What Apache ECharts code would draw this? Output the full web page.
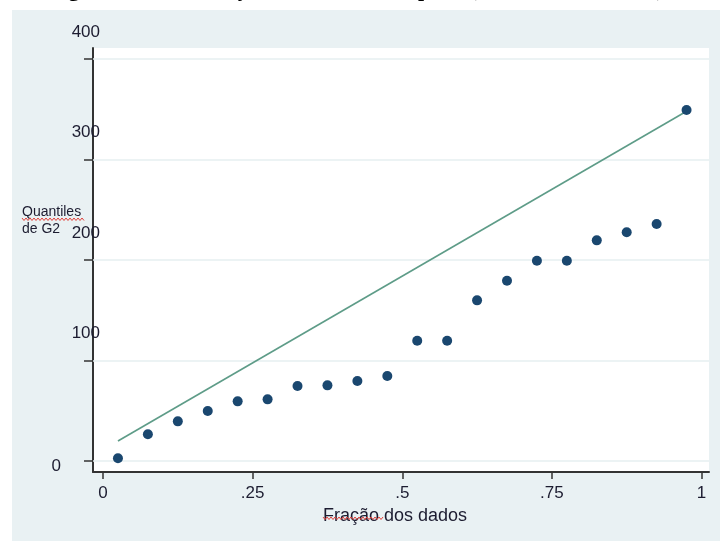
<!DOCTYPE html>
<html>
<head>
<meta charset="utf-8">
<script src="https://cdn.jsdelivr.net/npm/echarts@6/dist/echarts.min.js"></script>
<style>
  html, body { margin: 0; padding: 0; background: #fff; }
  #chart {
    width: 720px; height: 541px;
    background: linear-gradient(#e9f1f3, #e9f1f3) 12px 10px / 708px 531px no-repeat, #fff;
  }
</style>
</head>
<body>
<div id="chart"></div>
<script>
  // frações (posições de plotagem) e quantis de G2
  var fractions = [0.025, 0.075, 0.125, 0.175, 0.225, 0.275, 0.325, 0.375, 0.425, 0.475,
                   0.525, 0.575, 0.625, 0.675, 0.725, 0.775, 0.825, 0.875, 0.925, 0.975];
  var quantiles = [2.7, 26.6, 39.5, 49.8, 59.4, 61.4, 74.6, 75.3, 79.6, 84.6,
                   119.7, 119.7, 159.9, 179.4, 199.3, 199.3, 219.6, 227.6, 235.8, 349.3];
  // linha de referência
  var refX = [0.025, 0.975];
  var refY = [19.9, 348];
  // eixos
  var xTicks = [0, 0.25, 0.5, 0.75, 1];
  var xTickLabels = ['0', '.25', '.5', '.75', '1'];
  var yTicks = [0, 100, 200, 300, 400];

  var FONT = '"Liberation Sans", Arial, sans-serif';
  var INK = '#1c1c30';

  // sublinhado ondulado (corretor ortográfico)
  function wavy(x0, x1, y) {
    var pts = [];
    for (var x = x0, k = 0; x <= x1; x += 2, k++) {
      pts.push([x, y + (k % 2 ? 1.5 : -1)]);
    }
    return {
      type: 'polyline', z: 100, silent: true,
      shape: { points: pts },
      style: { stroke: '#e0403a', lineWidth: 1, fill: null }
    };
  }

  var scatterData = fractions.map(function (f, i) { return [f, quantiles[i]]; });
  var refData = refX.map(function (x, i) { return [x, refY[i]]; });

  var chart = echarts.init(document.getElementById('chart'));
  chart.setOption({
    backgroundColor: 'transparent',
    animation: false,
    grid: {
      left: 93, right: 11, top: 48, bottom: 69,
      show: true, backgroundColor: '#fff', borderWidth: 0
    },
    xAxis: {
      type: 'value',
      min: -0.0167, max: 1.0125,
      name: 'Fração dos dados',
      nameLocation: 'middle',
      nameGap: 25,
      nameTextStyle: { fontFamily: FONT, fontSize: 18, color: INK, padding: [0, 12, 0, 0] },
      axisLine: { show: true, onZero: false, lineStyle: { color: '#333', width: 2 } },
      axisTick: { show: true, length: 7, customValues: xTicks, lineStyle: { color: '#333', width: 1.5 } },
      axisLabel: {
        customValues: xTicks, margin: 13,
        fontFamily: FONT, fontSize: 17, color: INK,
        formatter: function (v) {
          var i = xTicks.indexOf(v);
          return i >= 0 ? xTickLabels[i] : '';
        }
      },
      splitLine: { show: false }
    },
    yAxis: {
      type: 'value',
      min: -10.9, max: 411,
      axisLine: { show: true, onZero: false, lineStyle: { color: '#333', width: 2 } },
      axisTick: { show: true, length: 9, customValues: yTicks, lineStyle: { color: '#333', width: 1.5 } },
      axisLabel: {
        customValues: yTicks, margin: -7, align: 'right',
        fontFamily: FONT, fontSize: 17, color: INK,
        formatter: function (v) {
          return v === 0 ? '{z|0}' : '{u|' + v + '}';
        },
        rich: {
          u: { fontFamily: FONT, fontSize: 17, color: INK, padding: [0, 0, 54, 0] },
          z: { fontFamily: FONT, fontSize: 17, color: INK, padding: [10, 39, 0, 0] }
        }
      },
      splitLine: { show: false }
    },
    graphic: [
      {
        type: 'text', z: 100, silent: true,
        style: {
          text: 'Figura 4 – Distribuição Quantil do Grupo II (Produtos Químicos)',
          x: 664, y: 1, textAlign: 'right', textVerticalAlign: 'bottom', verticalAlign: 'bottom',
          font: 'bold 22px "Liberation Serif", "Times New Roman", serif',
          fill: '#000'
        }
      },
      {
        type: 'text', z: 100, silent: true,
        style: {
          text: 'Quantiles\nde G2', x: 22, y: 204,
          font: '14px ' + FONT, lineHeight: 17, fill: INK
        }
      },
      wavy(22, 84, 219),
      wavy(323, 383, 518)
    ],
    series: [
      {
        // linhas de grade horizontais
        type: 'line', z: 1,
        data: [],
        markLine: {
          z: 1,
          silent: true, symbol: 'none',
          label: { show: false },
          lineStyle: { color: '#e6eff0', width: 1.5, type: 'solid' },
          data: yTicks.map(function (v) { return { yAxis: v }; })
        }
      },
      {
        type: 'line', z: 6,
        data: refData,
        symbol: 'none',
        lineStyle: { color: '#5e9c88', width: 1.6 }
      },
      {
        type: 'scatter', z: 7,
        data: scatterData,
        symbol: 'circle', symbolSize: 10,
        itemStyle: { color: '#1a476f', opacity: 1 }
      }
    ]
  });
</script>
</body>
</html>
